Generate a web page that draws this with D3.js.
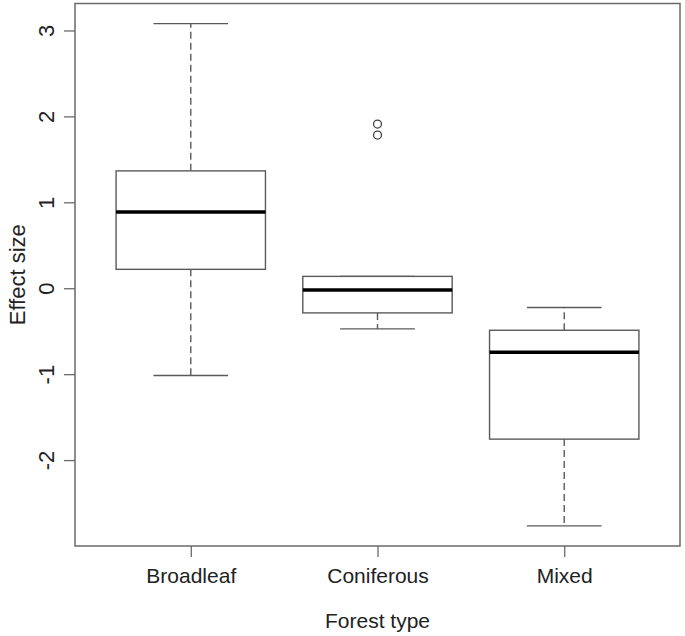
<!DOCTYPE html>
<html>
<head>
<meta charset="utf-8">
<script src="https://cdn.jsdelivr.net/npm/d3@7"></script>
<style>
  body { margin: 0; background: #fff; }
  text { font-family: "Liberation Sans", Arial, sans-serif; fill: #222; }
</style>
</head>
<body>
<div id="chart"></div>
<script>
// box stats
var categories = ["Broadleaf", "Coniferous", "Mixed"];
var whiskerLow = [-1.015, -0.473, -2.766];
var q1 = [0.22, -0.287, -1.756];
var median = [0.886, -0.02, -0.745];
var q3 = [1.366, 0.138, -0.489];
var whiskerHigh = [3.08, 0.138, -0.225];
var outliers = [[], [1.911, 1.783], []];
var yTicks = [-2, -1, 0, 1, 2, 3];

var svgWidth = 685;
var svgHeight = 636;

var margin = {
    top: 3.5,
    right: 5,
    bottom: 90,
    left: 75
};

var width = svgWidth - margin.left - margin.right;
var height = svgHeight - margin.top - margin.bottom;

var svg = d3.select("#chart")
    .append("svg")
    .attr("width", svgWidth)
    .attr("height", svgHeight);

var chartGroup = svg.append("g")
    .attr("transform", `translate(${margin.left}, ${margin.top})`);

// R style 4% padding on both axes
var allVals = whiskerLow.concat(whiskerHigh, d3.merge(outliers));
var yMin = d3.min(allVals), yMax = d3.max(allVals);
var pad = (yMax - yMin) * 0.04;

var yScale = d3.scaleLinear()
    .domain([yMin - pad, yMax + pad])
    .range([height, 0]);

var xScale = d3.scaleLinear()
    .domain([0.5 - 0.12, 3.5 + 0.12])
    .range([0, width]);

var lineColor = "#5a5a5a";
var boxHalf = xScale(1.4) - xScale(1);
var stapleHalf = boxHalf / 2;

var rows = categories.map(function(c, i) {
    return { name: c, pos: i + 1, lo: whiskerLow[i], q1: q1[i], med: median[i],
             q3: q3[i], hi: whiskerHigh[i], out: outliers[i] };
});

var boxes = chartGroup.selectAll("g.box")
    .data(rows)
    .enter()
    .append("g")
    .attr("class", "box");

// whiskers (dashed)
boxes.append("line")
    .attr("x1", d => xScale(d.pos))
    .attr("x2", d => xScale(d.pos))
    .attr("y1", d => yScale(d.q3))
    .attr("y2", d => yScale(d.hi))
    .attr("stroke", lineColor)
    .attr("stroke-width", 1.4)
    .attr("stroke-dasharray", "7,4");

boxes.append("line")
    .attr("x1", d => xScale(d.pos))
    .attr("x2", d => xScale(d.pos))
    .attr("y1", d => yScale(d.q1))
    .attr("y2", d => yScale(d.lo))
    .attr("stroke", lineColor)
    .attr("stroke-width", 1.4)
    .attr("stroke-dasharray", "7,4");

// staples
boxes.selectAll("line.staple")
    .data(d => [{ pos: d.pos, v: d.lo }, { pos: d.pos, v: d.hi }])
    .enter()
    .append("line")
    .attr("class", "staple")
    .attr("x1", d => xScale(d.pos) - stapleHalf)
    .attr("x2", d => xScale(d.pos) + stapleHalf)
    .attr("y1", d => yScale(d.v))
    .attr("y2", d => yScale(d.v))
    .attr("stroke", lineColor)
    .attr("stroke-width", 1.4);

// box
boxes.append("rect")
    .attr("x", d => xScale(d.pos) - boxHalf)
    .attr("y", d => yScale(d.q3))
    .attr("width", boxHalf * 2)
    .attr("height", d => yScale(d.q1) - yScale(d.q3))
    .attr("fill", "#fff")
    .attr("stroke", lineColor)
    .attr("stroke-width", 1.4);

// median
boxes.append("line")
    .attr("x1", d => xScale(d.pos) - boxHalf)
    .attr("x2", d => xScale(d.pos) + boxHalf)
    .attr("y1", d => yScale(d.med))
    .attr("y2", d => yScale(d.med))
    .attr("stroke", "#000")
    .attr("stroke-width", 3.5);

// outliers
boxes.selectAll("circle")
    .data(d => d.out.map(v => ({ pos: d.pos, v: v })))
    .enter()
    .append("circle")
    .attr("cx", d => xScale(d.pos))
    .attr("cy", d => yScale(d.v))
    .attr("r", 4)
    .attr("fill", "none")
    .attr("stroke", "#444")
    .attr("stroke-width", 1.3);

// frame
chartGroup.append("rect")
    .attr("x", 0)
    .attr("y", 0)
    .attr("width", width)
    .attr("height", height)
    .attr("fill", "none")
    .attr("stroke", "#6a6a6a")
    .attr("stroke-width", 1.5);

// y axis, plain hyphen for negatives like R
var leftAxis = d3.axisLeft(yScale)
    .tickValues(yTicks)
    .tickSize(11)
    .tickPadding(0)
    .tickFormat(d => String(d));

var yAxis = chartGroup.append("g")
    .call(leftAxis);
yAxis.select(".domain").remove();
yAxis.selectAll(".tick line").attr("stroke", "#6a6a6a").attr("stroke-width", 1.3);
yAxis.selectAll(".tick text")
    .attr("font-size", 22)
    .attr("text-anchor", "middle")
    .attr("transform", "translate(-29,0) rotate(-90)")
    .attr("x", 0)
    .attr("dy", "0.36em");

// x axis
var bottomAxis = d3.axisBottom(xScale)
    .tickValues([1, 2, 3])
    .tickSize(11)
    .tickPadding(11)
    .tickFormat(d => categories[d - 1]);

var xAxis = chartGroup.append("g")
    .attr("transform", `translate(0, ${height})`)
    .call(bottomAxis);
xAxis.select(".domain").remove();
xAxis.selectAll(".tick line").attr("stroke", "#6a6a6a").attr("stroke-width", 1.3);
xAxis.selectAll(".tick text").attr("font-size", 21);

// axis titles
svg.append("text")
    .attr("x", margin.left + width / 2)
    .attr("y", 628)
    .attr("text-anchor", "middle")
    .attr("font-size", 21)
    .text("Forest type");

svg.append("text")
    .attr("transform", `translate(25, ${margin.top + height / 2}) rotate(-90)`)
    .attr("text-anchor", "middle")
    .attr("font-size", 22)
    .text("Effect size");
</script>
</body>
</html>
